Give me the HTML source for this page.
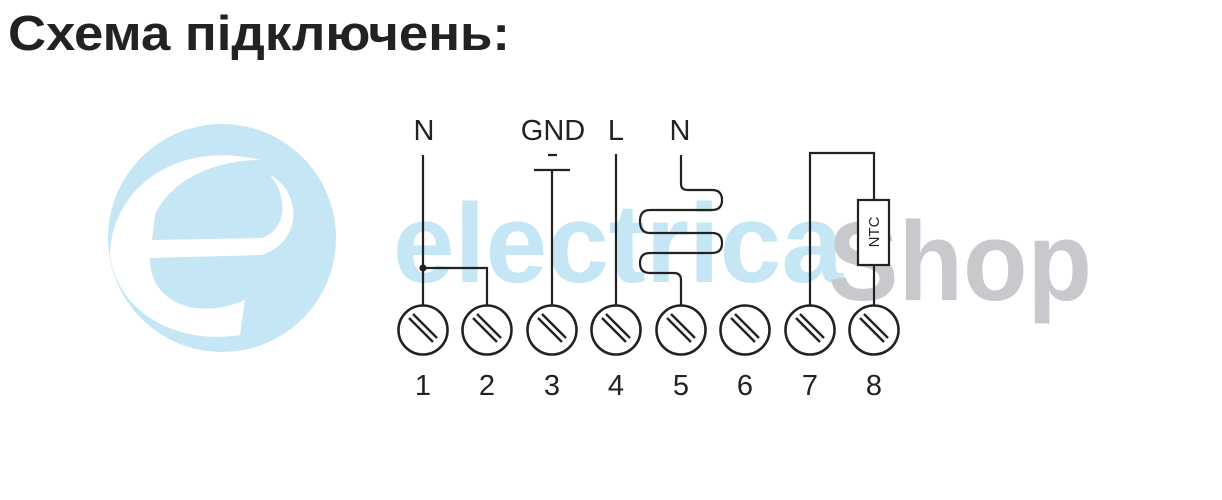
<!DOCTYPE html>
<html><head><meta charset="utf-8"><style>
html,body{margin:0;padding:0;background:#fff;}
svg{display:block;}
</style></head><body>
<svg width="1222" height="500" viewBox="0 0 1222 500" xmlns="http://www.w3.org/2000/svg">
<!-- watermark logo -->
<circle cx="222" cy="238" r="114" fill="#c4e6f5"/>
<path d="M110 255 C112 185 180 140 260 160 C215 160 170 180 155 215 L152 240 L262 238 C285 230 290 200 270 175 C300 190 305 240 262 255 L150 258 C150 305 200 320 245 300 L240 335 C180 345 118 315 110 255 Z" fill="#fff"/>
<path d="M155 214 C170 185 215 178 245 185 C275 195 268 225 240 228 L155 230 Z" fill="#c4e6f5"/>
<text x="393" y="282" font-family="Liberation Sans, sans-serif" font-weight="bold" font-size="112" fill="#c4e6f5" textLength="450" lengthAdjust="spacingAndGlyphs">electrica</text>
<text x="828" y="300" font-family="Liberation Sans, sans-serif" font-weight="bold" font-size="112" fill="#c8c9cc" textLength="264" lengthAdjust="spacingAndGlyphs">Shop</text>
<!-- title -->
<text x="8" y="50" font-family="Liberation Sans, sans-serif" font-weight="bold" font-size="49" fill="#222" textLength="502" lengthAdjust="spacingAndGlyphs">Схема підключень:</text>
<g font-family="Liberation Sans, sans-serif" font-size="29" fill="#222" text-anchor="middle">
<text x="424" y="140">N</text>
<text x="553" y="140">GND</text>
<text x="616" y="140">L</text>
<text x="680" y="140">N</text>
<text x="423" y="395">1</text><text x="487" y="395">2</text><text x="552" y="395">3</text><text x="616" y="395">4</text>
<text x="681" y="395">5</text><text x="745" y="395">6</text><text x="810" y="395">7</text><text x="874" y="395">8</text>
</g>
<g stroke="#222" stroke-width="2.2" fill="none">
<path d="M423 155 V306 M423 268 H487 V306"/>
<circle cx="423" cy="268" r="2.5" fill="#222"/>
<path d="M534 170 H570 M548 155 H557 M552 170 V306"/>
<path d="M616 154 V306"/>
<path d="M681 155 V184 Q681 190 688 190 H712 Q722 190 722 200 Q722 210 712 210 H650 Q640 210 640 221 Q640 233 650 233 H712 Q722 233 722 243 Q722 253 712 253 H650 Q640 253 640 263 Q640 273 650 273 H674 Q681 273 681 280 V306"/>
<path d="M810 306 V153 H874 V200 M874 265 V306"/>
<rect x="858" y="200" width="31" height="65" fill="#fff"/>
</g>
<text x="0" y="0" font-family="Liberation Sans, sans-serif" font-size="15" fill="#222" text-anchor="middle" transform="translate(879 232) rotate(-90)">NTC</text>
<g stroke="#222" stroke-width="2.6" fill="#fff">
<g id="t"><circle cx="423" cy="330" r="24.5"/><path d="M409 318 L433 342 M413 314 L437 338" stroke-width="2.4"/></g>
<use href="#t" x="64"/><use href="#t" x="129"/><use href="#t" x="193"/><use href="#t" x="258"/>
<use href="#t" x="322"/><use href="#t" x="387"/><use href="#t" x="451"/>
</g>
</svg>
</body></html>
